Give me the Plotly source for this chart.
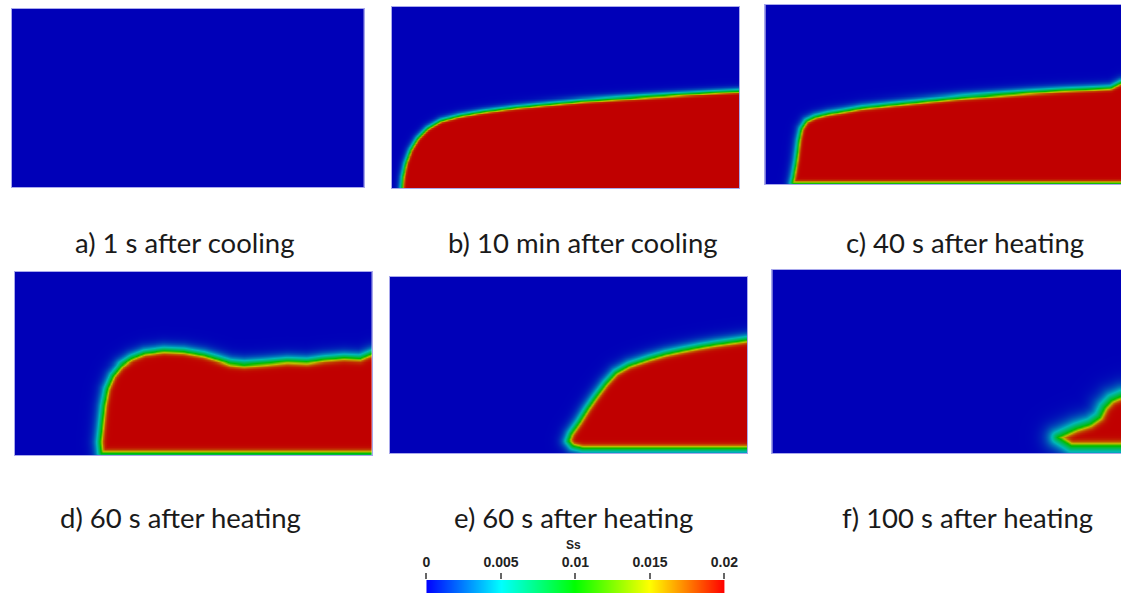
import numpy as np
import plotly.graph_objects as go

# ---------------- data ----------------
LABELS = ["a) 1 s after cooling", "b) 10 min after cooling", "c) 40 s after heating",
          "d) 60 s after heating", "e) 60 s after heating", "f) 100 s after heating"]
SS_MAX = 0.02
CBAR_TICKS = [0, 0.005, 0.01, 0.015, 0.02]
CBAR_TEXT = ["0", "0.005", "0.01", "0.015", "0.02"]
CBAR_TITLE = "Ss"

# Outline (Ss = 0.01 iso-line) of the saturated region, normalised panel coords (x right, y up)
A_X = []
A_Y = []
B_X = [0.026, 0.029, 0.032, 0.040, 0.054, 0.074, 0.102, 0.140, 0.193, 0.260, 0.355, 0.451,
       0.546, 0.642, 0.737, 0.833, 0.928, 1.0, 1.1, 1.1]
B_Y = [-0.1, 0.0, 0.064, 0.138, 0.212, 0.276, 0.331, 0.374, 0.401, 0.424, 0.448, 0.466,
       0.483, 0.495, 0.506, 0.517, 0.527, 0.534, 0.534, -0.1]
C_X = [0.075, 0.079, 0.087, 0.094, 0.101, 0.115, 0.138, 0.176, 0.222, 0.269, 0.362, 0.456,
       0.549, 0.642, 0.736, 0.829, 0.922, 0.969, 1.0, 1.1, 1.1]
C_Y = [0.007, 0.043, 0.136, 0.247, 0.312, 0.355, 0.377, 0.396, 0.411, 0.428, 0.448, 0.467,
       0.485, 0.498, 0.511, 0.522, 0.530, 0.535, 0.567, 0.567, 0.007]
D_X = [0.240, 0.237, 0.242, 0.248, 0.257, 0.273, 0.296, 0.324, 0.361, 0.417, 0.473, 0.529,
       0.566, 0.603, 0.641, 0.696, 0.762, 0.818, 0.864, 0.920, 0.966, 1.0, 1.1, 1.1]
D_Y = [0.012, 0.073, 0.164, 0.273, 0.364, 0.436, 0.491, 0.527, 0.555, 0.569, 0.564, 0.545,
       0.524, 0.502, 0.495, 0.502, 0.513, 0.509, 0.522, 0.531, 0.527, 0.555, 0.555, 0.012]
E_X = [1.1, 0.538, 0.510, 0.499, 0.506, 0.529, 0.552, 0.575, 0.603, 0.631, 0.668, 0.724,
       0.770, 0.816, 0.863, 0.909, 0.955, 1.0, 1.1]
E_Y = [0.030, 0.030, 0.044, 0.072, 0.110, 0.176, 0.252, 0.319, 0.395, 0.457, 0.499, 0.537,
       0.564, 0.584, 0.603, 0.619, 0.632, 0.645, 0.645]
F_X = [1.1, 0.856, 0.818, 0.870, 0.910, 0.938, 0.952, 0.972, 1.0, 1.1]
F_Y = [0.042, 0.042, 0.088, 0.135, 0.160, 0.198, 0.252, 0.292, 0.315, 0.315]

OUTLINES = [(A_X, A_Y), (B_X, B_Y), (C_X, C_Y), (D_X, D_Y), (E_X, E_Y), (F_X, F_Y)]
# interface softness (px) inside / outside the saturated region
SOFT_IN = [1, 0.8, 1.0, 1.5, 1.5, 2.0]
SOFT_OUT = [1, 1.9, 2.4, 3.4, 3.4, 5.5]

# ---------------- layout (pixels of the target picture) ----------------
W_REF, H_FIG = 1121, 596
W_FIG = 1135
PANELS = [(8, 361, 9, 187), (389, 738, 7, 188), (764, 1121, 5, 184),
          (11, 369, 272, 455), (387, 746, 277, 453), (771, 1121, 270, 453)]
LABEL_POS = [(182, 243), (581, 243), (964, 243), (177, 517), (572, 517), (967, 517)]
CBAR_BOX = (424, 723, 580, 593)

PANEL_SCALE = [[0.0, "rgb(0,0,184)"], [0.25, "rgb(0,184,184)"], [0.5, "rgb(0,188,0)"],
               [0.75, "rgb(190,190,0)"], [1.0, "rgb(192,0,0)"]]
BAR_SCALE = [[0.0, "rgb(0,0,255)"], [0.25, "rgb(0,255,255)"], [0.5, "rgb(0,255,0)"],
             [0.75, "rgb(255,255,0)"], [1.0, "rgb(255,0,0)"]]


def field(outline, W, H, s_in, s_out):
    nx, ny = int(W / 2) + 1, int(H / 2) + 1
    xs, ys = np.linspace(0, 1, nx), np.linspace(0, 1, ny)
    if len(outline[0]) == 0:
        return xs, ys, np.zeros((ny, nx))
    X, Y = np.meshgrid(xs * W, ys * H)
    px, py = np.array(outline[0]) * W, np.array(outline[1]) * H
    inside = np.zeros(X.shape, bool)
    dmin = np.full(X.shape, np.inf)
    n = len(px)
    for i in range(n):
        x1, y1, x2, y2 = px[i], py[i], px[(i + 1) % n], py[(i + 1) % n]
        dx, dy = x2 - x1, y2 - y1
        L2 = dx * dx + dy * dy
        if L2 == 0:
            continue
        t = np.clip(((X - x1) * dx + (Y - y1) * dy) / L2, 0, 1)
        dmin = np.minimum(dmin, np.hypot(X - (x1 + t * dx), Y - (y1 + t * dy)))
        cond = (y1 > Y) != (y2 > Y)
        if dy != 0:
            xint = x1 + (Y - y1) * dx / dy
            inside ^= cond & (X < xint)
    sd = np.where(inside, dmin, -dmin)
    s = np.where(sd > 0, s_in, s_out)
    z = SS_MAX / (1 + np.exp(-sd / s))
    return xs, ys, np.round(z, 6)


fig = go.Figure()
layout = {}
for i, (box, outline) in enumerate(zip(PANELS, OUTLINES)):
    x0, x1, y0, y1 = box
    W, H = x1 - x0, y1 - y0
    xs, ys, z = field(outline, W, H, SOFT_IN[i], SOFT_OUT[i])
    k = "" if i == 0 else str(i + 1)
    fig.add_trace(go.Heatmap(x=xs, y=ys, z=z, zmin=0, zmax=SS_MAX, colorscale=PANEL_SCALE,
                             zsmooth="best", showscale=False, xaxis="x" + k, yaxis="y" + k,
                             hoverinfo="skip"))
    layout["xaxis" + k] = dict(domain=[x0 / W_REF, x1 / W_REF], range=[0, 1], visible=True,
                               showticklabels=False, ticks="", showgrid=False, zeroline=False,
                               showline=True, linecolor="#a8a8ec", linewidth=1, mirror=True,
                               anchor="y" + k, fixedrange=True)
    layout["yaxis" + k] = dict(domain=[1 - y1 / H_FIG, 1 - y0 / H_FIG], range=[0, 1],
                               showticklabels=False, ticks="", showgrid=False, zeroline=False,
                               showline=True, linecolor="#a8a8ec", linewidth=1, mirror=True,
                               anchor="x" + k, fixedrange=True)

# colour bar drawn as its own strip
cx0, cx1, cy0, cy1 = CBAR_BOX
bar_vals = np.linspace(0, SS_MAX, 300)
fig.add_trace(go.Heatmap(x=bar_vals, y=[0], z=[bar_vals], zmin=0, zmax=SS_MAX,
                         colorscale=BAR_SCALE, showscale=False, xaxis="x7", yaxis="y7",
                         hoverinfo="skip"))
layout["xaxis7"] = dict(domain=[cx0 / W_REF, cx1 / W_REF], range=[0, SS_MAX], side="top",
                        tickvals=CBAR_TICKS, ticktext=CBAR_TEXT, ticks="outside", ticklen=6,
                        tickwidth=2, tickcolor="#666666", showgrid=False, zeroline=False,
                        showline=False, anchor="y7", fixedrange=True,
                        tickfont=dict(family="Liberation Sans, Arial", size=14, color="#222222",
                                      weight="bold"))
layout["yaxis7"] = dict(domain=[1 - cy1 / H_FIG, 1 - cy0 / H_FIG], range=[-0.5, 0.5],
                        showticklabels=False, ticks="", showgrid=False, zeroline=False,
                        anchor="x7", fixedrange=True)

annotations = []
for text, (lx, ly) in zip(LABELS, LABEL_POS):
    annotations.append(dict(text=text, x=lx / W_REF, y=1 - ly / H_FIG, xref="paper", yref="paper",
                            showarrow=False, xanchor="center", yanchor="middle",
                            font=dict(family="Lato, Open Sans, sans-serif", size=27.5,
                                      color="#1a1a1a")))
annotations.append(dict(text=CBAR_TITLE, x=572 / W_REF, y=1 - 545 / H_FIG, xref="paper",
                        yref="paper", showarrow=False, xanchor="center", yanchor="middle",
                        font=dict(family="Liberation Sans, Arial", size=12, color="#222222",
                                  weight="bold")))

fig.update_layout(width=W_FIG, height=H_FIG, margin=dict(l=0, r=0, t=0, b=0),
                  paper_bgcolor="white", plot_bgcolor="white", showlegend=False,
                  annotations=annotations, **layout)
fig.write_html("out.html")
